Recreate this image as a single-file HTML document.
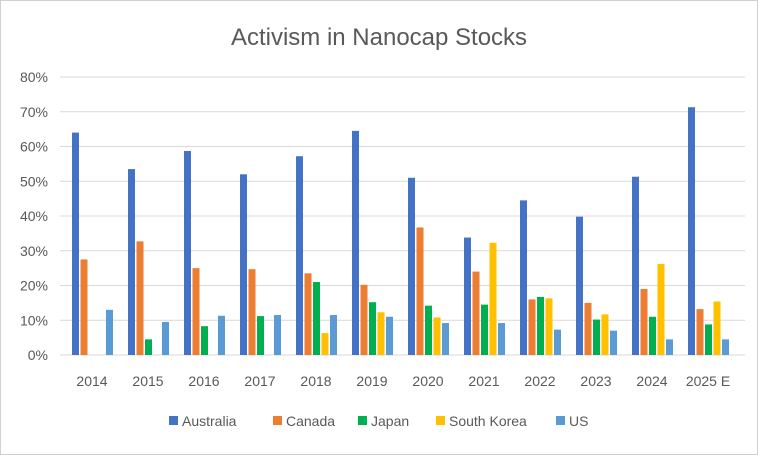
<!DOCTYPE html>
<html><head><meta charset="utf-8"><style>
html,body{margin:0;padding:0;background:#fff;}
svg{display:block;font-family:"Liberation Sans",Arial,sans-serif;}
</style></head><body>
<svg id="c" width="758" height="455" xmlns="http://www.w3.org/2000/svg">
<rect x="0.5" y="0.5" width="757" height="454" fill="#fff" stroke="#d0d0d0"/>
<text x="379" y="45" text-anchor="middle" font-size="24" fill="#595959">Activism in Nanocap Stocks</text>
</svg>
<script>
var s=document.getElementById('c'),ns='http://www.w3.org/2000/svg';
function el(t,a,txt){var e=document.createElementNS(ns,t);for(var k in a)e.setAttribute(k,a[k]);if(txt!=null)e.textContent=txt;s.appendChild(e);return e;}
var y0=355,px=278/80,x0=63,gw=56;
for(var i=0;i<=8;i++){var y=y0-i*10*px;el('line',{x1:60,x2:745,y1:y,y2:y,stroke:'#d9d9d9','stroke-width':1});
el('text',{x:48,y:y+5,'text-anchor':'end','font-size':14,fill:'#595959'},(i*10)+'%');}
var yrs=['2014','2015','2016','2017','2018','2019','2020','2021','2022','2023','2024','2025 E'];
var d=[[64,27.5,0,0,13],[53.5,32.7,4.5,0,9.5],[58.7,25,8.3,0,11.3],[52,24.7,11.2,0,11.5],[57.2,23.5,21,6.3,11.5],[64.5,20.2,15.2,12.3,11],[51,36.7,14.2,10.8,9.2],[33.8,24,14.5,32.3,9.2],[44.5,16,16.7,16.3,7.3],[39.8,15,10.2,11.7,7],[51.3,19,11,26.2,4.5],[71.3,13.2,8.8,15.4,4.5]];
var col=['#4472C4','#ED7D31','#00B050','#FFC000','#5B9BD5'];
for(var g=0;g<12;g++){var gx=x0+g*gw;for(var b=0;b<5;b++){var v=d[g][b];if(!v)continue;var h=v*px;
el('rect',{x:gx+9+b*8.5,y:y0-h,width:7,height:h,fill:col[b]});}
el('text',{x:gx+gw/2+1,y:386,'text-anchor':'middle','font-size':14,fill:'#595959'},yrs[g]);}
var L=[['Australia',169],['Canada',273],['Japan',358],['South Korea',436],['US',556]];
L.forEach(function(l,i){el('rect',{x:l[1],y:416,width:9,height:9,fill:col[i]});el('text',{x:l[1]+13,y:426,'font-size':14,fill:'#595959'},l[0]);});
</script>
</body></html>
